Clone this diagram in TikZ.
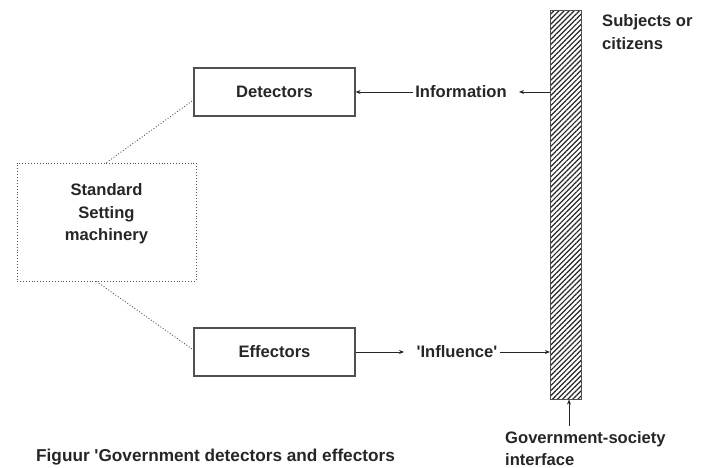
\documentclass[tikz,border=0pt]{standalone}
\usepackage{fontspec}
\setmainfont{Liberation Sans}
\usetikzlibrary{arrows.meta,patterns.meta}
\definecolor{ink}{HTML}{262626}
\definecolor{rule}{HTML}{505050}
\newcommand{\sq}{\textquotesingle}
\begin{document}
\begin{tikzpicture}[x=1pt,y=-1pt,
  font=\bfseries\fontsize{16.6}{22.5}\selectfont, text=ink,
  box/.style={draw=rule, line width=1.1pt, minimum width=161pt, minimum height=48pt, inner sep=0pt},
  dotbox/.style={draw=rule, line width=0.9pt, dotted, minimum width=179pt, minimum height=118pt, inner sep=0pt},
  wall/.style={draw=rule, line width=1pt, minimum width=31pt, minimum height=388pt, inner sep=0pt,
    pattern={Lines[angle=45, distance=3.6pt, line width=1.2pt]}, pattern color=ink},
  flow/.style={draw=ink, line width=0.8pt, -{Stealth[length=5pt,width=4pt]}},
  link/.style={draw=rule, line width=0.9pt, dotted},
  lbl/.style={inner sep=0pt, anchor=west, align=left}]
\useasboundingbox (0,0) rectangle (707,468);

% main blocks
\node[box] (det) at (274.5,92) {Detectors};
\node[box] (eff) at (274.5,352) {Effectors};
\node[dotbox] (std) at (106.5,222) {};
\node[inner sep=0pt, align=center] (stdtxt) at (106.5,214) {Standard\\Setting\\machinery};
\node[wall] (bar) at (566,205) {};

% flow labels
\node[inner sep=2pt] (info) at (461,92) {Information};
\node[inner sep=2pt] (infl) at (457,352) {\sq Influence\sq};
\coordinate (infoR) at (519,92);
\coordinate (inflL) at (404,352);
\coordinate (gsi) at (569,426);

% information flows in from society to the detectors
\draw[flow] (bar.west |- det.east) -- (infoR);
\draw[flow] (info.west) -- (det.east);
% influence flows out from the effectors to society
\draw[flow] (eff.east) -- (inflL);
\draw[flow] (infl.east) -- (bar.west |- eff.east);
% pointer to the interface
\draw[flow] (gsi) -- (gsi |- bar.south);

% dotted links to the standard setting machinery
\draw[link] (std.north) -- ([yshift=-8pt]det.west);
\draw[link] ([xshift=-10pt]std.south) -- ([yshift=2pt]eff.west);

% side labels
\node[lbl] (subj) at (602,32) {Subjects or\\citizens};
\node[lbl, anchor=north west] (gsilbl) at (505,431) {Government-society\\interface};
\node[lbl, font=\bfseries\fontsize{17.2}{20}\selectfont] (cap) at (36,457) {Figuur \sq Government detectors and effectors};
\end{tikzpicture}
\end{document}
